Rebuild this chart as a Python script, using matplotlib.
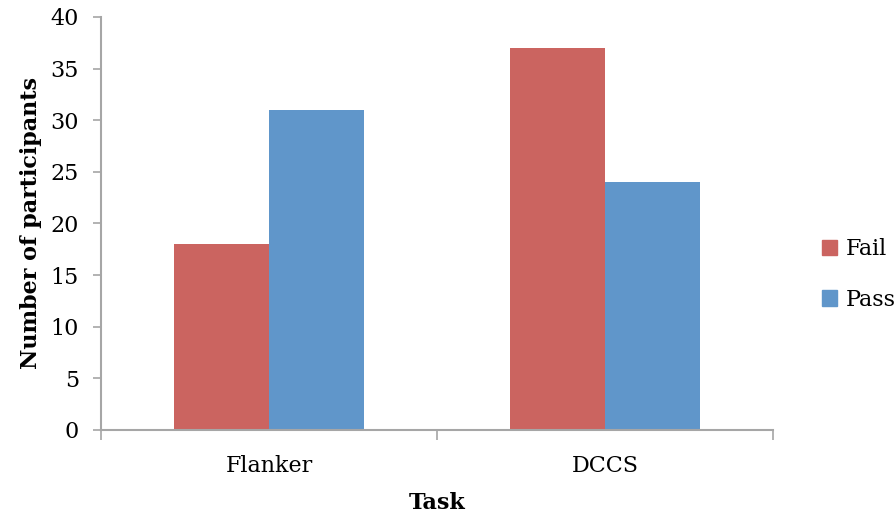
import numpy as np
import matplotlib
matplotlib.use("Agg")
import matplotlib.pyplot as plt
from matplotlib.patches import Patch

# Data
tasks = ["Flanker", "DCCS"]
fail = [18, 37]
pass_ = [31, 24]
y_ticks = [0, 5, 10, 15, 20, 25, 30, 35, 40]

fail_color = "#CB6460"
pass_color = "#6096CA"
axis_color = "#A6A6A6"

plt.rcParams["font.family"] = ["DejaVu Serif"]

fig = plt.figure(figsize=(8.96, 5.18), dpi=100)
ax = fig.add_axes([0.1127, 0.1699, 0.75, 0.7973])

x = np.arange(len(tasks))
w = 0.283
ax.bar(x - w / 2, fail, width=w, color=fail_color, label="Fail")
ax.bar(x + w / 2, pass_, width=w, color=pass_color, label="Pass")

ax.set_xlim(-0.5, len(tasks) - 0.5)
ax.set_ylim(0, 40)
ax.set_yticks(y_ticks)
ax.tick_params(axis="y", direction="out", length=6, width=1.2, color=axis_color,
               labelsize=16, pad=10)

# category labels at centers, tick marks at boundaries
ax.set_xticks(np.arange(-0.5, len(tasks)), minor=False)
ax.set_xticklabels([])
ax.tick_params(axis="x", direction="out", length=7, width=1.2, color=axis_color)
ax.set_xticks(x, minor=True)
ax.set_xticklabels(tasks, minor=True)
ax.tick_params(axis="x", which="minor", length=0, labelsize=16, pad=18)

for s in ["top", "right"]:
    ax.spines[s].set_visible(False)
for s in ["left", "bottom"]:
    ax.spines[s].set_color(axis_color)
    ax.spines[s].set_linewidth(1.5)

ax.set_ylabel("Number of participants", fontsize=16, fontweight="bold", labelpad=6)
ax.set_xlabel("Task", fontsize=16, fontweight="bold", labelpad=11)

handles = [Patch(color=fail_color, label="Fail"), Patch(color=pass_color, label="Pass")]
fig.legend(handles=handles, loc="center left", bbox_to_anchor=(0.917, 0.47),
           frameon=False, fontsize=16, handlelength=0.7, handleheight=0.7,
           handletextpad=0.4, labelspacing=1.3, borderpad=0, borderaxespad=0)

fig.savefig("out.png", dpi=100)
